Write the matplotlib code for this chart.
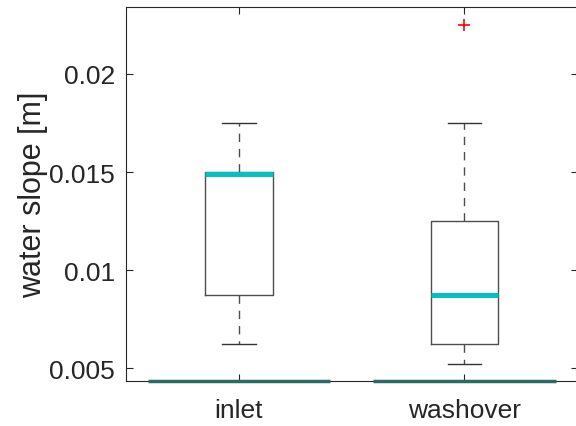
import matplotlib
matplotlib.use("Agg")
import matplotlib.pyplot as plt

plt.rcParams['font.family'] = ['Liberation Sans', 'DejaVu Sans']

# boxplot summary per group
groups = ["inlet", "washover"]
q1 = [0.00875, 0.00625]
med = [0.0149, 0.00875]
q3 = [0.0150, 0.0125]
whislo = [0.00625, 0.0052]
whishi = [0.0175, 0.0175]
fliers = [[], [0.0225]]
y_range = (0.00434, 0.02342)
yticks = [0.005, 0.01, 0.015, 0.02]

stats = []
for i, g in enumerate(groups):
    stats.append(dict(label=g, q1=q1[i], med=med[i], q3=q3[i],
                      whislo=whislo[i], whishi=whishi[i], fliers=fliers[i]))

fig = plt.figure(figsize=(5.76, 4.27), dpi=100)
# right spine sits just past the figure edge
ax = fig.add_axes([0.219, 0.1054, 0.785, 0.876])

pos = [1, 2]
ax.bxp(stats, positions=pos, widths=0.3, showfliers=True,
       boxprops=dict(color='#4d4d4d', linewidth=1.0),
       whiskerprops=dict(color='#4d4d4d', linewidth=1.0, linestyle=(0, (6, 5))),
       capprops=dict(color='#333333', linewidth=1.0),
       medianprops=dict(color='#00c2c2', linewidth=3.6, solid_capstyle='butt'),
       flierprops=dict(marker='+', markeredgecolor='red', markersize=9,
                       markeredgewidth=1.2, linestyle='none'))

# dark teal lines along the bottom edge
for p in pos:
    ax.hlines(y_range[0], p - 0.405, p + 0.405, color='#2a6b66',
              linewidth=2.5, clip_on=False, zorder=3)

ax.set_xlim(0.5, 2.505)
ax.set_ylim(*y_range)
ax.set_yticks(yticks)
ax.set_yticklabels(["0.005", "0.01", "0.015", "0.02"])
ax.set_xticks(pos)
ax.set_xticklabels(groups)
ax.set_ylabel("water slope [m]", fontsize=22, color='#262626', labelpad=1)

ax.tick_params(axis='both', direction='in', labelsize=19, colors='#262626',
               length=5, width=0.8, top=True, right=True)
ax.tick_params(axis='y', pad=8)
ax.tick_params(axis='x', pad=12)
for s in ax.spines.values():
    s.set_color('#262626')
    s.set_linewidth(0.8)

fig.savefig("out.png", dpi=100)
